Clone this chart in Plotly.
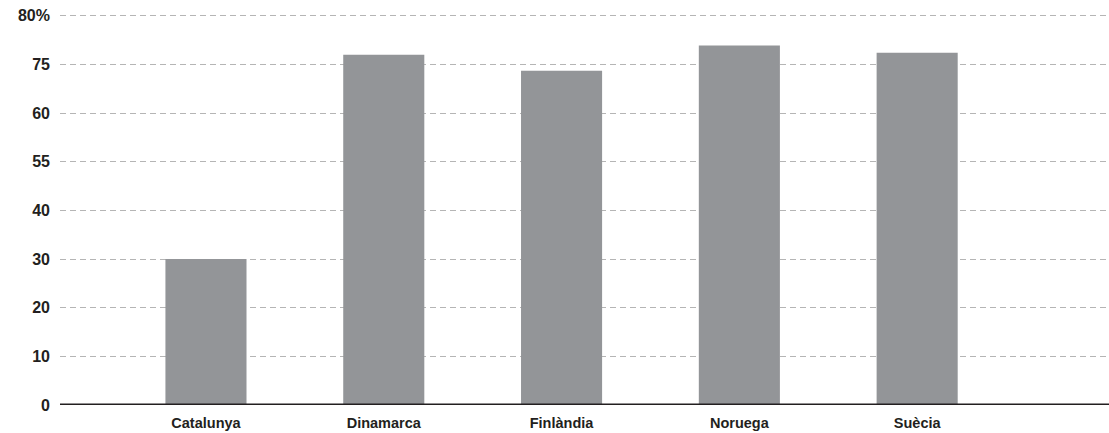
import plotly.graph_objects as go

countries = ["Catalunya", "Dinamarca", "Finlàndia", "Noruega", "Suècia"]
values = [30.0, 72.0, 68.7, 73.9, 72.4]
ytick_vals = [0, 10, 20, 30, 40, 50, 60, 70, 80]
ytick_text = ["0", "10", "20", "30", "40", "55", "60", "75", "80%"]

fig = go.Figure()
fig.add_trace(go.Bar(
    x=countries, y=values,
    marker=dict(color="#939598", line=dict(width=0)),
    width=0.456,
    hoverinfo="x+y",
))

fig.update_layout(
    width=1109, height=433,
    margin=dict(l=60, r=0, t=11, b=28),
    paper_bgcolor="white", plot_bgcolor="white",
    showlegend=False,
    font=dict(family="Liberation Sans, Arial, sans-serif", color="#231f20"),
    xaxis=dict(
        type="category",
        range=[-0.821, 5.079],
        showgrid=False, zeroline=False, showline=False,
        ticks="",
        tickfont=dict(size=14.5, weight="bold", color="#231f20"),
        ticklabelstandoff=7,
    ),
    yaxis=dict(
        range=[0, 81],
        tickvals=ytick_vals, ticktext=ytick_text,
        showgrid=True, gridcolor="#b5b5b5", gridwidth=1, griddash="6px,4px",
        zeroline=False, showline=False,
        ticks="",
        tickfont=dict(size=16, weight="bold", color="#231f20"),
        ticklabelstandoff=9,
    ),
    shapes=[dict(
        type="line", xref="paper", yref="y",
        x0=0, x1=1, y0=0, y1=0,
        line=dict(color="#231f20", width=3),
        layer="above",
    )],
)

fig.write_html("out.html")
